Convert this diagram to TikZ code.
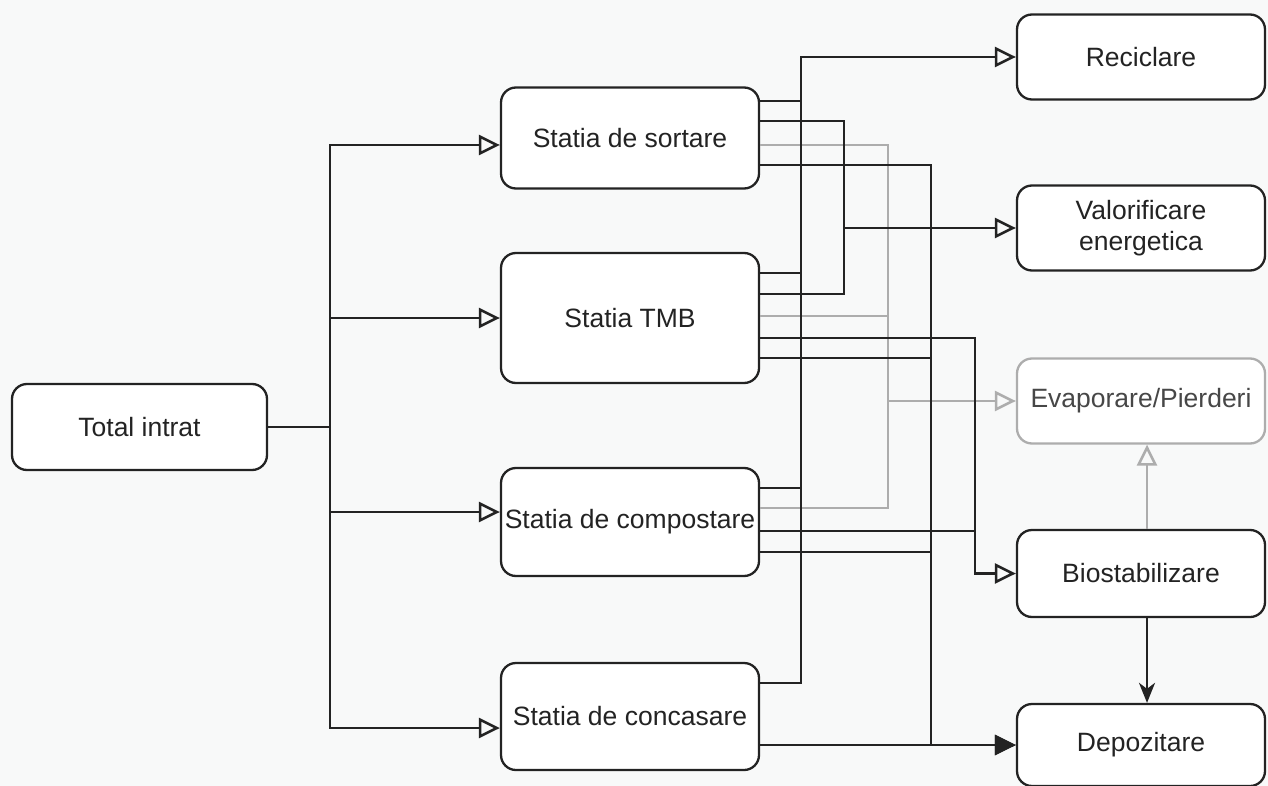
\documentclass[tikz,border=0pt]{standalone}
\usepackage{fontspec}
\setmainfont{Liberation Sans}
\usetikzlibrary{arrows.meta}
\definecolor{ln}{HTML}{232323}
\definecolor{lg}{HTML}{ADADAD}
\definecolor{bg}{HTML}{F8F9F9}
\begin{document}
\begin{tikzpicture}[x=1pt,y=-1pt,
  box/.style={draw=ln, line width=2.3pt, rounded corners=15pt, fill=white, inner sep=0pt,
    align=center, font=\fontsize{26.5}{31}\selectfont, text=ln},
  gbox/.style={box, draw=lg, text=black!72},
  conn/.style={draw=ln, line width=2.6pt},
  gconn/.style={draw=lg, line width=2.6pt},
  oarr/.style={-{Triangle[open,length=21pt,width=20pt]}},
  farr/.style={-{Triangle[length=21pt,width=20pt]}},
  sarr/.style={-{Stealth[length=20pt,width=16pt,inset=6pt]}}]
\fill[bg] (0,0) rectangle (1268,786);
\useasboundingbox (0,0) rectangle (1268,786);

% nodes
\node[box, minimum width=255pt, minimum height=86pt] (total) at (139.5,427) {Total intrat};
\node[box, minimum width=258pt, minimum height=101pt] (sort) at (630,138) {\raisebox{-5pt}{Statia de sortare}};
\node[box, minimum width=258pt, minimum height=130pt] (tmb) at (630,318) {Statia TMB};
\node[box, minimum width=258pt, minimum height=108pt] (comp) at (630,522) {Statia de compostare};
\node[box, minimum width=258pt, minimum height=107pt] (conc) at (630,716.5) {Statia de concasare};

\node[box, minimum width=248pt, minimum height=85pt] (rec) at (1141,57) {Reciclare};
\node[box, minimum width=248pt, minimum height=85pt] (val) at (1141,228) {Valorificare\\energetica};
\node[gbox, minimum width=248pt, minimum height=85pt] (evap) at (1141,401) {Evaporare/Pierderi};
\node[box, minimum width=248pt, minimum height=87pt] (bio) at (1141,573.5) {Biostabilizare};
\node[box, minimum width=248pt, minimum height=82pt] (dep) at (1141,745) {Depozitare};

% input tree
\coordinate (trunk) at (330,427);
\draw[conn] (total.east) -- (trunk);
\draw[conn,oarr] (trunk) |- (sort.west |- 0,145);
\draw[conn,oarr] (trunk) |- (tmb.west |- 0,318);
\draw[conn,oarr] (trunk) |- (comp.west |- 0,512);
\draw[conn,oarr] (trunk) |- (conc.west |- 0,728);

% gray: evaporare
\draw[gconn] (sort.east |- 0,145) -| (888,508) -- (comp.east |- 0,508);
\draw[gconn] (tmb.east |- 0,316) -- (888,316);
\draw[gconn,oarr] (evap.west -| 888,0) -- (evap.west);
\draw[gconn,oarr] (bio.north -| 1147,0) -- (evap.south -| 1147,0);

% reciclare
\draw[conn,oarr] (conc.east |- 0,683) -| (rec.west -| 801,0) -- (rec.west);
\draw[conn] (sort.east |- 0,101) -- (801,101);
\draw[conn] (tmb.east |- 0,273) -- (801,273);
\draw[conn] (comp.east |- 0,488) -- (801,488);

% valorificare
\draw[conn] (sort.east |- 0,121) -| (844,294) -- (tmb.east |- 0,294);
\draw[conn,oarr] (val.west -| 844,0) -- (val.west);

% biostabilizare
\draw[conn,oarr] (tmb.east |- 0,338) -| (bio.west -| 975,0) -- (bio.west);
\draw[conn] (comp.east |- 0,531) -- (975,531);

% depozitare
\draw[conn] (sort.east |- 0,165) -| (dep.west -| 931,0);
\draw[conn] (tmb.east |- 0,358) -- (931,358);
\draw[conn] (comp.east |- 0,552) -- (931,552);
\draw[conn,oarr] (dep.west -| 931,0) -- (dep.west);
\draw[conn,farr] (conc.east |- dep.west) -- (dep.west);
\draw[conn,sarr] (bio.south -| 1147,0) -- (dep.north -| 1147,0);
\end{tikzpicture}
\end{document}
